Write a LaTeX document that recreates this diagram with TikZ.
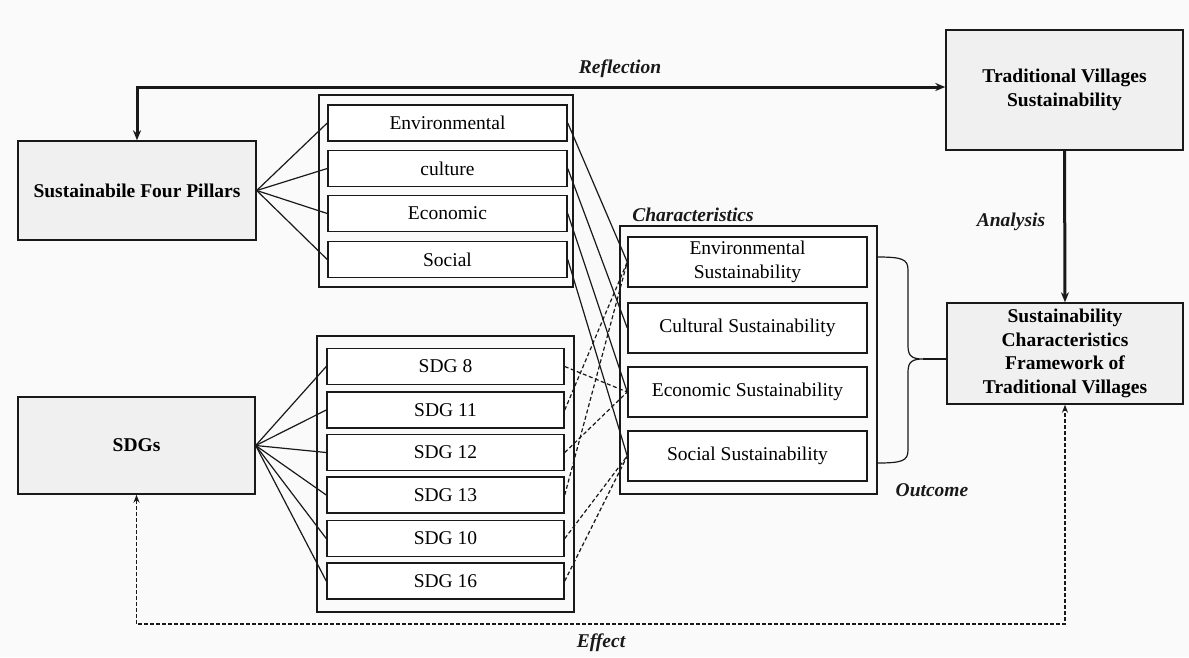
\documentclass[tikz,border=0pt]{standalone}
\usepackage{fontspec}
\setmainfont{Liberation Serif}
\usetikzlibrary{arrows.meta, calc}
\definecolor{boxgray}{RGB}{240,240,240}
\definecolor{paper}{RGB}{250,250,250}
\definecolor{inkgray}{RGB}{25,25,25}
\newcommand{\figfont}{\fontsize{19.5}{23.5}\selectfont}
\tikzset{
  mainbox/.style  = {draw=inkgray, line width=1.4pt, fill=boxgray, align=center,
                     font=\figfont\bfseries, inner sep=2pt},
  itembox/.style  = {draw=inkgray, line width=1.5pt, fill=white, align=center,
                     font=\figfont, inner sep=1pt},
  groupbox/.style = {draw=inkgray, line width=1.6pt},
  link/.style     = {draw=inkgray, line width=1.2pt},
  dlink/.style    = {link, dash pattern=on 4pt off 2.5pt},
  arrow/.style    = {->, >={Stealth[length=10pt, width=8pt]}, line width=3pt, draw=inkgray},
  darrow/.style   = {<->, >={Stealth[length=8pt, width=6pt]}, line width=1.6pt, draw=inkgray,
                     dash pattern=on 4pt off 2pt},
  lbl/.style      = {font=\figfont\bfseries\itshape, text=inkgray, inner sep=0pt},
}

\begin{document}
\begin{tikzpicture}[x=1pt, y=-1pt]
  \useasboundingbox[fill=paper] (0,0) rectangle (1189,657);
  % main boxes
  \node[mainbox, minimum width=238pt, minimum height=99pt] (sfp) at (137,190.5) {Sustainabile Four Pillars};
  \node[mainbox, minimum width=237pt, minimum height=97pt] (sdgs) at (136.5,445.5) {SDGs};
  \node[mainbox, minimum width=237pt, minimum height=120pt] (tvs) at (1064.5,90) {Traditional Villages\\Sustainability};
  \node[mainbox, minimum width=236pt, minimum height=101pt] (scf) at (1065,353.5)
    {Sustainability\\Characteristics\\Framework of\\Traditional Villages};

  % group frames
  \node[groupbox, minimum width=254pt, minimum height=192pt] (pillars) at (446,191) {};
  \node[groupbox, minimum width=257pt, minimum height=276pt] (goals) at (445.5,474) {};
  \node[groupbox, minimum width=257pt, minimum height=268pt] (chars) at (748.5,360) {};

  % four pillars
  \foreach \n/\t/\y in {env/Environmental/123, cul/culture/168.5, eco/Economic/213.5, soc/Social/259.5}
    \node[itembox, minimum width=239pt, minimum height=36pt] (p-\n) at (447.5,\y) {\t};

  % sdg list
  \foreach \n/\y in {8/366.5, 11/410, 12/452.5, 13/495, 10/538.5, 16/581}
    \node[itembox, minimum width=237pt, minimum height=36pt] (g\n) at (445.5,\y) {SDG \n};

  % characteristics
  \node[itembox, minimum width=239pt, minimum height=50pt] (c-env) at (747.5,262) {Environmental\\Sustainability};
  \foreach \n/\t/\y in {cul/Cultural/328, eco/Economic/392, soc/Social/456}
    \node[itembox, minimum width=239pt, minimum height=50pt] (c-\n) at (747.5,\y) {\t\ Sustainability};

  % links
  \foreach \n in {env,cul,eco,soc} {
    \draw[link] (sfp.east) -- (p-\n.west);
    \draw[link] (p-\n.east) -- (c-\n.west);
  }
  \foreach \n in {8,11,12,13,10,16}
    \draw[link] (sdgs.east) -- (g\n.west);
  \foreach \a/\b in {8/eco, 11/env, 12/eco, 13/env, 10/soc, 16/soc}
    \draw[dlink] (g\a.east) -- (c-\b.west);

  % brace to framework
  \coordinate (tip) at (923,359);
  \draw[link] (877,257) .. controls (902,257) and (908,259) .. (908,270) -- (908,346)
    .. controls (908,356) and (912,359) .. (tip)
    .. controls (912,359) and (908,362) .. (908,372) -- (908,450)
    .. controls (908,461) and (902,463) .. (877,463);
  \draw[link] (tip) -- (tip -| scf.west);

  % arrows
  \coordinate (refl) at ($(tvs.west)+(0,-3)$);
  \draw[arrow, <->] (sfp.north) |- (refl);
  \draw[arrow] (tvs.south) -- (scf.north);
  \coordinate (effline) at (600,624);
  \draw[darrow] (sdgs.south) |- (effline) -| (scf.south);

  % labels
  \node[lbl] (reflection) at (620,69) {Reflection};
  \node[lbl] (analysis) at (1011,222) {Analysis};
  \node[lbl] (characteristics) at (693,215) {Characteristics};
  \node[lbl] (outcome) at (932,490) {Outcome};
  \node[lbl] (effect) at (601,643) {Effect};
\end{tikzpicture}
\end{document}
